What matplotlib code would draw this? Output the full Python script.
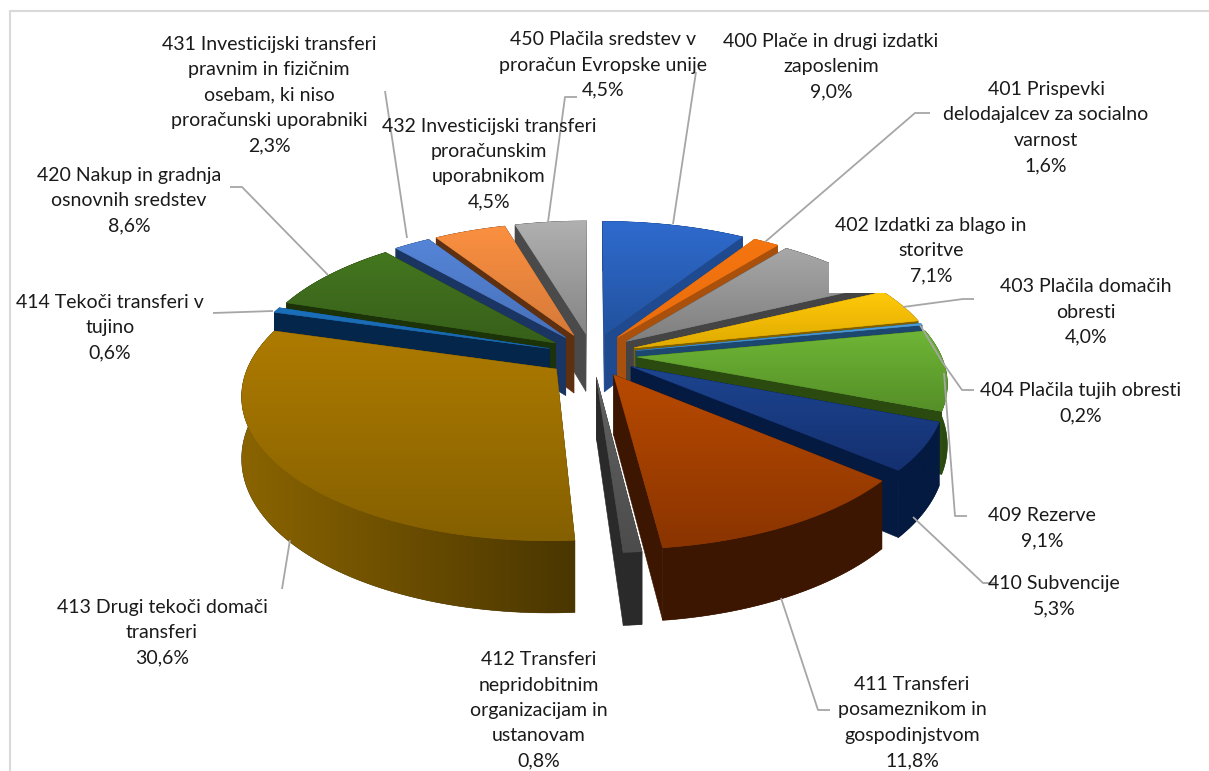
import numpy as np
import matplotlib
matplotlib.use('Agg')
import matplotlib.pyplot as plt
from matplotlib.colors import LinearSegmentedColormap
from matplotlib.patches import Polygon, Rectangle

plt.rcParams['font.family'] = ['Lato', 'DejaVu Sans']

# data
names = ['400 Plače in drugi izdatki\nzaposlenim',
         '401 Prispevki\ndelodajalcev za socialno\nvarnost',
         '402 Izdatki za blago in\nstoritve',
         '403 Plačila domačih\nobresti',
         '404 Plačila tujih obresti',
         '409 Rezerve',
         '410 Subvencije',
         '411 Transferi\nposameznikom in\ngospodinjstvom',
         '412 Transferi\nnepridobitnim\norganizacijam in\nustanovam',
         '413 Drugi tekoči domači\ntransferi',
         '414 Tekoči transferi v\ntujino',
         '420 Nakup in gradnja\nosnovnih sredstev',
         '431 Investicijski transferi\npravnim in fizičnim\nosebam, ki niso\nproračunski uporabniki',
         '432 Investicijski transferi\nproračunskim\nuporabnikom',
         '450 Plačila sredstev v\nproračun Evropske unije']
shares = [9.0, 1.6, 7.1, 4.0, 0.2, 9.1, 5.3, 11.8, 0.8, 30.6, 0.6, 8.6, 2.3, 4.5, 4.5]

# colours: top of the face, bottom of the face, walls (left and right end)
top_light = ['#2f6bce', '#f57510', '#a8a8a8', '#ffc90a', '#4f9fdc', '#6fb636', '#1d4590', '#b84a00',
             '#626262', '#ae7b00', '#1a70bb', '#44771f', '#5585d8', '#fb9040', '#b0b0b0']
top_dark = ['#22529f', '#ea6e0c', '#7f7f7f', '#e0aa00', '#3f8cc8', '#558f28', '#143070', '#8a3400',
            '#4c4c4c', '#856000', '#1a66aa', '#375f1a', '#4870b8', '#d67a3a', '#858585']
walls = ['#1f4a8f', '#a8500c', '#444444', '#7f6000', '#1c4870', '#2a4a10', '#041a40', '#3c1600',
         '#2a2a2a', '#4a3600', '#03264a', '#1c3208', '#1b3562', '#5e3010', '#4a4a4a']
walls_left = list(walls)
walls_left[9] = '#8a6400'

# label centre x, y of first and last line
label_pos = [(831, 39, 94), (1046, 88, 167), (931, 225, 277), (1086, 286, 338), (1081, 390, 416),
             (1042, 515, 541), (1054, 583, 609), (912, 683, 762), (539, 659, 762), (162, 607, 659),
             (110, 303, 352), (129, 175, 227), (269, 43, 147), (489, 125, 203), (603, 39, 91)]
leaders = [[(696, 72), (673, 224)],
           [(765, 242), (915, 113), (930, 113)],
           None,
           [(903, 307), (963, 299), (974, 299)],
           [(920, 325), (943, 363), (962, 390), (974, 390)],
           [(944, 373), (955, 516), (967, 516)],
           [(913, 517), (983, 583), (995, 583)],
           [(781, 598), (818, 710), (830, 710)],
           None,
           [(290, 540), (282, 589)],
           [(213, 313), (273, 311)],
           [(230, 187), (242, 187), (328, 275)],
           [(385, 91), (407, 238)],
           None,
           [(577, 97), (565, 97), (548, 222)]]

# pie geometry in pixels
cx, cy = 592, 355
rx, ry = 304, 138
persp = 0.166
depth = 59
move_x, move_y = 45 / rx, 22 / ry

fig = plt.figure(figsize=(12.09, 7.71), dpi=100)
ax = fig.add_axes([0, 0, 1, 1])


def project(px, py):
    s = 1 / (1 + persp * py)
    return cx + rx * px * s, cy - ry * py * s, s


ends = np.cumsum(shares) / np.sum(shares) * 2 * np.pi
starts = ends - np.array(shares) / np.sum(shares) * 2 * np.pi
mids = (starts + ends) / 2


def gradient(pts, c0, c1, zorder, clip, horizontal=False):
    cmap = LinearSegmentedColormap.from_list('f', [c0, c1])
    grad = np.linspace(0, 1, 128).reshape(-1, 1)
    if horizontal:
        grad = grad.T
    im = ax.imshow(grad, cmap=cmap, aspect='auto', zorder=zorder,
                   extent=(pts[:, 0].min(), pts[:, 0].max(), pts[:, 1].max(), pts[:, 1].min()))
    im.set_clip_path(clip)


# back slices first
order = np.argsort(-np.cos(mids))
z = 2
for i in order:
    ex = move_x * np.sin(mids[i])
    ey = move_y * np.cos(mids[i])
    t = np.linspace(starts[i], ends[i], 80)
    x, y, s = project(ex + np.sin(t), ey + np.cos(t))
    ox, oy, so = project(ex, ey)
    d = depth * s
    do = depth * so

    # cut sides, then the outer arc
    side0 = [(ox, oy), (x[0], y[0]), (x[0], y[0] + d[0]), (ox, oy + do)]
    side1 = [(ox, oy), (x[-1], y[-1]), (x[-1], y[-1] + d[-1]), (ox, oy + do)]
    for pts in (side0, side1):
        ax.add_patch(Polygon(pts, closed=True, fc=walls[i], ec=walls[i], lw=0.4, zorder=z))
    z += 1
    outer = np.r_[np.c_[x, y], np.c_[x, y + d][::-1]]
    patch = Polygon(outer, closed=True, fc=walls[i], ec=walls[i], lw=0.4, zorder=z)
    ax.add_patch(patch)
    z += 1
    gradient(outer, walls_left[i], walls[i], z, patch, horizontal=True)
    z += 1

    # top face with a vertical gradient
    face = np.r_[[(ox, oy)], np.c_[x, y]]
    patch = Polygon(face, closed=True, fc=top_dark[i], ec=top_dark[i], lw=0.4, zorder=z)
    ax.add_patch(patch)
    z += 1
    gradient(face, top_light[i], top_dark[i], z, patch)
    z += 1

# the box of label 402 hides a part of the pie
ax.add_patch(Rectangle((829, 210), 205, 83, fc='white', ec='none', zorder=190))

for pts in leaders:
    if pts:
        ax.plot(*zip(*pts), color='#a6a6a6', lw=1.3, zorder=200, solid_capstyle='butt')

for name, val, (tx, y0, y1) in zip(names, shares, label_pos):
    label = name + '\n' + f'{val:.1f}%'.replace('.', ',')
    ax.text(tx, (y0 + y1) / 2, label, ha='center', va='center', fontsize=14, color='#1a1a1a',
            linespacing=1.59, zorder=210)

# chart frame, open on the right and at the bottom
ax.plot([10, 10, 1209], [771, 11, 11], color='#d9d9d9', lw=1.5, zorder=220)

ax.set_xlim(0, 1209)
ax.set_ylim(771, 0)
ax.axis('off')
fig.savefig('out.png', dpi=100, facecolor='white')
